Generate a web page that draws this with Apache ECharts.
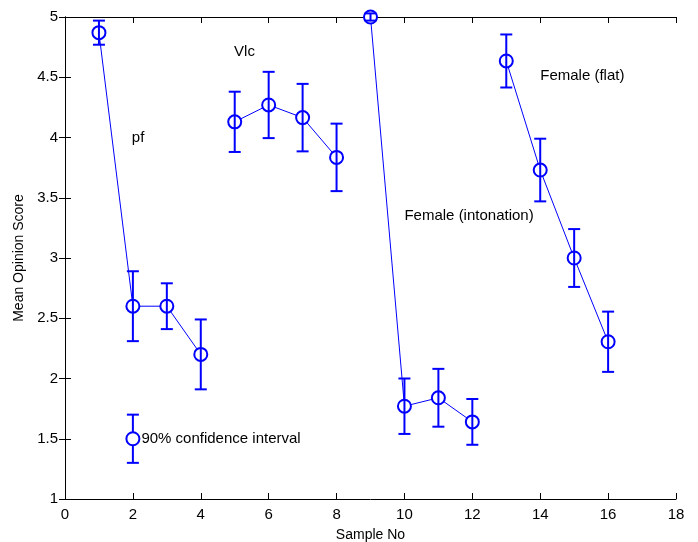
<!DOCTYPE html>
<html>
<head>
<meta charset="utf-8">
<script src="https://cdn.jsdelivr.net/npm/echarts@6/dist/echarts.min.js"></script>
<style>
  html, body { margin: 0; padding: 0; background: #fff; }
</style>
</head>
<body>
<div id="myEcharts" style="width: 698px; height: 542px;"></div>
<script>
// samples and scores
const sampleNo = [1, 2, 3, 4, 5, 6, 7, 8, 9, 10, 11, 12, 13, 14, 15, 16];
const meanScore = [4.87, 2.60, 2.60, 2.20, 4.13, 4.27, 4.165, 3.835, 5.0, 1.77, 1.84, 1.64, 4.635, 3.73, 3.0, 2.305];
const ciHalf = [0.10, 0.29, 0.19, 0.29, 0.25, 0.275, 0.28, 0.28, 0.03, 0.23, 0.24, 0.19, 0.22, 0.26, 0.24, 0.25];
const groupSize = 4;

// text labels inside the plot
const noteText = ['pf', 'Vlc', 'Female (intonation)', 'Female (flat)'];
const noteX = [1.97, 4.98, 10.0, 14.0];
const noteY = [4.0, 4.71, 3.35, 4.51];

// the "legend" sample
const legendX = 2, legendY = 1.5, legendErr = 0.2;
const legendText = '90% confidence interval';

const blue = '#0000ff';
const font = 'Liberation Sans, Arial, sans-serif';

let chart = echarts.init(document.getElementById('myEcharts'));

// line series per group
let lineSeries = [];
for (let g = 0; g < sampleNo.length; g += groupSize) {
    let pts = [];
    for (let i = g; i < g + groupSize; i++) pts.push([sampleNo[i], meanScore[i]]);
    lineSeries.push({
        type: 'line',
        data: pts,
        clip: false,
        symbol: 'emptyCircle',
        symbolSize: 13,
        lineStyle: { color: blue, width: 1 },
        itemStyle: { color: blue, borderColor: blue, borderWidth: 1.2 },
        z: 3
    });
}

let errData = sampleNo.map((x, i) => [x, meanScore[i] - ciHalf[i], meanScore[i] + ciHalf[i]]);
errData.push([legendX, legendY - legendErr, legendY + legendErr]);

function errorBar(params, api) {
    let lo = api.coord([api.value(0), api.value(1)]);
    let hi = api.coord([api.value(0), api.value(2)]);
    let w = 6;
    let style = { stroke: blue, lineWidth: 2 };
    return {
        type: 'group',
        children: [
            { type: 'line', shape: { x1: lo[0], y1: lo[1], x2: hi[0], y2: hi[1] }, style: style },
            { type: 'line', shape: { x1: lo[0] - w, y1: lo[1], x2: lo[0] + w, y2: lo[1] }, style: style },
            { type: 'line', shape: { x1: hi[0] - w, y1: hi[1], x2: hi[0] + w, y2: hi[1] }, style: style }
        ]
    };
}

chart.setOption({
    animation: false,
    textStyle: { fontFamily: font },
    grid: { left: 65, right: 22, top: 17, bottom: 43, outerBoundsMode: 'none', containLabel: false },
    xAxis: [
        {
            type: 'value', min: 0, max: 18, interval: 2,
            name: 'Sample No', nameLocation: 'middle', nameGap: 29,
            nameTextStyle: { color: '#000', fontSize: 14, fontFamily: font },
            axisLine: { lineStyle: { color: '#000', width: 1 } },
            axisTick: { inside: true, length: 6, lineStyle: { color: '#000' } },
            axisLabel: { color: '#000', fontSize: 15, margin: 8, fontFamily: font },
            splitLine: { show: false }
        },
        {
            type: 'value', min: 0, max: 18, interval: 2, position: 'top',
            axisLine: { lineStyle: { color: '#000', width: 1 } },
            axisTick: { inside: true, length: 6, lineStyle: { color: '#000' } },
            axisLabel: { show: false },
            splitLine: { show: false }
        }
    ],
    yAxis: [
        {
            type: 'value', min: 1, max: 5, interval: 0.5,
            name: 'Mean Opinion Score', nameLocation: 'middle', nameGap: 34,
            nameTextStyle: { color: '#000', fontSize: 14, fontFamily: font },
            axisLine: { show: true, lineStyle: { color: '#000', width: 1 } },
            axisTick: { show: true, inside: true, length: 6, lineStyle: { color: '#000' } },
            axisLabel: { color: '#000', fontSize: 15, margin: 7, fontFamily: font },
            splitLine: { show: false }
        },
        {
            type: 'value', min: 1, max: 5, interval: 0.5, position: 'right',
            axisLine: { show: true, lineStyle: { color: '#000', width: 1 } },
            axisTick: { show: true, inside: true, length: 6, lineStyle: { color: '#000' } },
            axisLabel: { show: false },
            splitLine: { show: false }
        }
    ],
    series: lineSeries.concat([
        {
            type: 'custom',
            renderItem: errorBar,
            data: errData,
            clip: false,
            z: 4
        },
        {
            type: 'scatter',
            data: [[legendX, legendY]],
            symbol: 'emptyCircle',
            symbolSize: 13,
            itemStyle: { color: blue, borderColor: blue, borderWidth: 1.2, opacity: 1 },
            label: {
                show: true, position: 'right', distance: 1,
                formatter: legendText, color: '#000', fontSize: 15, fontFamily: font
            },
            z: 5
        },
        {
            type: 'scatter',
            data: noteX.map((x, i) => [x, noteY[i], noteText[i]]),
            symbolSize: 0,
            itemStyle: { opacity: 1 },
            label: {
                show: true, position: 'right', distance: 0, opacity: 1,
                formatter: p => p.data[2], color: '#000', fontSize: 15, fontFamily: font
            },
            z: 5
        }
    ])
});
</script>
</body>
</html>
